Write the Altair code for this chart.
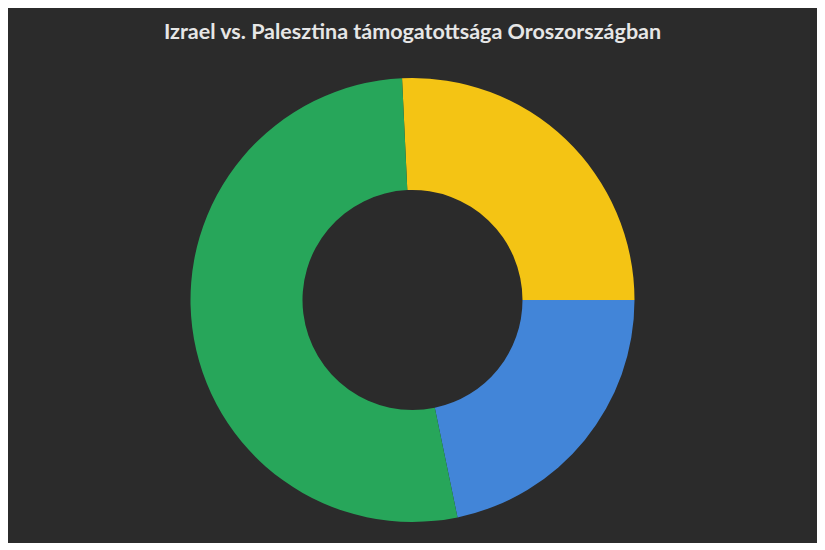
import altair as alt
import pandas as pd
import math

categories = ["Izrael", "Palesztina", "Egyik sem / nem tudja"]
values = [25.75, 21.75, 52.5]
colors = ["#F4C414", "#4285D8", "#27A65A"]

df = pd.DataFrame({"kategoria": categories, "arany": values, "sorrend": [0, 1, 2]})

start = math.radians(-2.7)

chart = (
    alt.Chart(df)
    .mark_arc(innerRadius=110, outerRadius=222, stroke=None)
    .encode(
        theta=alt.Theta("arany:Q", stack=True,
                        scale=alt.Scale(range=[start, start + 2 * math.pi])),
        color=alt.Color("kategoria:N", sort=categories,
                        scale=alt.Scale(domain=categories, range=colors),
                        legend=None),
        order=alt.Order("sorrend:Q"),
        tooltip=["kategoria:N", "arany:Q"],
    )
    .properties(
        width=809,
        height=486,
        padding={"top": 14, "left": 0, "right": 0, "bottom": 0},
        background="#2b2b2b",
        title=alt.TitleParams(
            "Izrael vs. Palesztina támogatottsága Oroszországban",
            font="Lato", fontSize=21.5, fontWeight="bold", color="#e6e6e6",
            anchor="middle", offset=13.5,
        ),
    )
    .configure_view(stroke=None)
)

chart.save("out.html", embed_options={"renderer": "svg", "actions": False})
